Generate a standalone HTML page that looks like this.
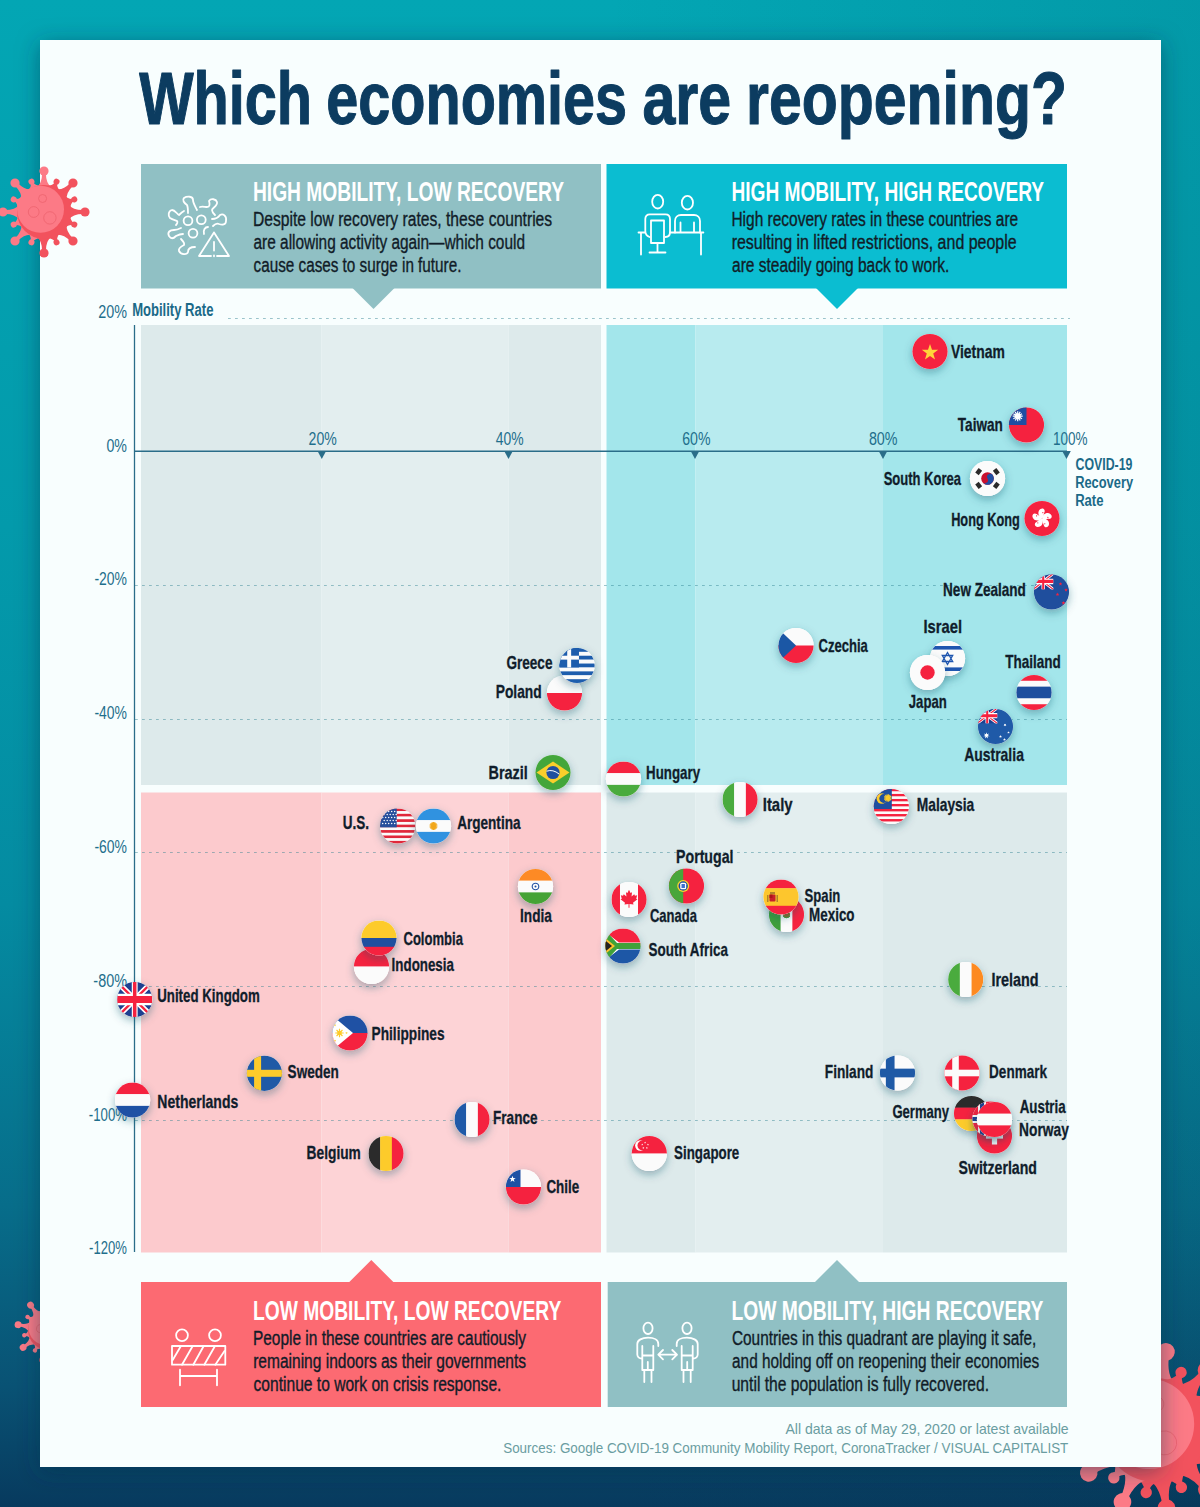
<!DOCTYPE html><html><head><meta charset="utf-8"><title>Which economies are reopening?</title><style>html,body{margin:0;padding:0;background:#0b3b5d;}svg{display:block}text{font-family:"Liberation Sans",sans-serif}</style></head><body><svg width="1200" height="1507" viewBox="0 0 1200 1507" font-family="Liberation Sans">
<defs>
<linearGradient id="bg" x1="0" y1="0" x2="0" y2="1">
<stop offset="0" stop-color="#03a6b4"/><stop offset="0.35" stop-color="#039aab"/><stop offset="0.6" stop-color="#048ba1"/>
<stop offset="0.8" stop-color="#076d8a"/><stop offset="0.92" stop-color="#095274"/><stop offset="1" stop-color="#073a5e"/>
</linearGradient>
<linearGradient id="bgh" x1="0" y1="0" x2="1" y2="0">
<stop offset="0" stop-color="#003040" stop-opacity="0"/><stop offset="0.5" stop-color="#003040" stop-opacity="0"/><stop offset="1" stop-color="#003040" stop-opacity="0.10"/>
</linearGradient>
<filter id="cardsh" x="-6%" y="-6%" width="112%" height="112%"><feDropShadow dx="0" dy="4" stdDeviation="11" flood-color="#003048" flood-opacity="0.5"/></filter>
<filter id="fsh" x="-50%" y="-50%" width="200%" height="200%"><feDropShadow dx="0" dy="3.5" stdDeviation="4.2" flood-color="#1b5266" flood-opacity="0.4"/></filter>
<clipPath id="fc"><circle r="17.6"/></clipPath>
<radialGradient id="vbody" cx="0.4" cy="0.4" r="0.6"><stop offset="0.6" stop-color="#fb7884"/><stop offset="1" stop-color="#f2555f"/></radialGradient>
</defs>
<rect width="1200" height="1507" fill="url(#bg)"/><rect width="1200" height="1507" fill="url(#bgh)"/>
<g transform="translate(48,1330) rotate(10)"><g transform="rotate(0.0)"><path d="M-5.6,-18.4 Q-1.4,-21.0 -1.4,-29.0 L1.4,-29.0 Q1.4,-21.0 5.6,-18.4Z" fill="#fc7a86"/><circle cx="0" cy="-30.4" r="3.4" fill="#fc7a86"/></g><g transform="rotate(22.5)"><path d="M-5.6,-18.4 Q-1.0,-21.0 -1.0,-23.4 L1.0,-23.4 Q1.0,-21.0 5.6,-18.4Z" fill="#f2525d"/><circle cx="0" cy="-24.3" r="2.2" fill="#f2525d"/></g><g transform="rotate(45.0)"><path d="M-5.6,-18.4 Q-1.4,-21.0 -1.4,-29.0 L1.4,-29.0 Q1.4,-21.0 5.6,-18.4Z" fill="#f2525d"/><circle cx="0" cy="-30.4" r="3.4" fill="#f2525d"/></g><g transform="rotate(67.5)"><path d="M-5.6,-18.4 Q-1.0,-21.0 -1.0,-23.4 L1.0,-23.4 Q1.0,-21.0 5.6,-18.4Z" fill="#f2525d"/><circle cx="0" cy="-24.3" r="2.2" fill="#f2525d"/></g><g transform="rotate(90.0)"><path d="M-5.6,-18.4 Q-1.4,-21.0 -1.4,-29.0 L1.4,-29.0 Q1.4,-21.0 5.6,-18.4Z" fill="#f2525d"/><circle cx="0" cy="-30.4" r="3.4" fill="#f2525d"/></g><g transform="rotate(112.5)"><path d="M-5.6,-18.4 Q-1.0,-21.0 -1.0,-23.4 L1.0,-23.4 Q1.0,-21.0 5.6,-18.4Z" fill="#f2525d"/><circle cx="0" cy="-24.3" r="2.2" fill="#f2525d"/></g><g transform="rotate(135.0)"><path d="M-5.6,-18.4 Q-1.4,-21.0 -1.4,-29.0 L1.4,-29.0 Q1.4,-21.0 5.6,-18.4Z" fill="#f2525d"/><circle cx="0" cy="-30.4" r="3.4" fill="#f2525d"/></g><g transform="rotate(157.5)"><path d="M-5.6,-18.4 Q-1.0,-21.0 -1.0,-23.4 L1.0,-23.4 Q1.0,-21.0 5.6,-18.4Z" fill="#f2525d"/><circle cx="0" cy="-24.3" r="2.2" fill="#f2525d"/></g><g transform="rotate(180.0)"><path d="M-5.6,-18.4 Q-1.4,-21.0 -1.4,-29.0 L1.4,-29.0 Q1.4,-21.0 5.6,-18.4Z" fill="#f2525d"/><circle cx="0" cy="-30.4" r="3.4" fill="#f2525d"/></g><g transform="rotate(202.5)"><path d="M-5.6,-18.4 Q-1.0,-21.0 -1.0,-23.4 L1.0,-23.4 Q1.0,-21.0 5.6,-18.4Z" fill="#fc7a86"/><circle cx="0" cy="-24.3" r="2.2" fill="#fc7a86"/></g><g transform="rotate(225.0)"><path d="M-5.6,-18.4 Q-1.4,-21.0 -1.4,-29.0 L1.4,-29.0 Q1.4,-21.0 5.6,-18.4Z" fill="#fc7a86"/><circle cx="0" cy="-30.4" r="3.4" fill="#fc7a86"/></g><g transform="rotate(247.5)"><path d="M-5.6,-18.4 Q-1.0,-21.0 -1.0,-23.4 L1.0,-23.4 Q1.0,-21.0 5.6,-18.4Z" fill="#fc7a86"/><circle cx="0" cy="-24.3" r="2.2" fill="#fc7a86"/></g><g transform="rotate(270.0)"><path d="M-5.6,-18.4 Q-1.4,-21.0 -1.4,-29.0 L1.4,-29.0 Q1.4,-21.0 5.6,-18.4Z" fill="#fc7a86"/><circle cx="0" cy="-30.4" r="3.4" fill="#fc7a86"/></g><g transform="rotate(292.5)"><path d="M-5.6,-18.4 Q-1.0,-21.0 -1.0,-23.4 L1.0,-23.4 Q1.0,-21.0 5.6,-18.4Z" fill="#fc7a86"/><circle cx="0" cy="-24.3" r="2.2" fill="#fc7a86"/></g><g transform="rotate(315.0)"><path d="M-5.6,-18.4 Q-1.4,-21.0 -1.4,-29.0 L1.4,-29.0 Q1.4,-21.0 5.6,-18.4Z" fill="#fc7a86"/><circle cx="0" cy="-30.4" r="3.4" fill="#fc7a86"/></g><g transform="rotate(337.5)"><path d="M-5.6,-18.4 Q-1.0,-21.0 -1.0,-23.4 L1.0,-23.4 Q1.0,-21.0 5.6,-18.4Z" fill="#fc7a86"/><circle cx="0" cy="-24.3" r="2.2" fill="#fc7a86"/></g><circle r="20" fill="#f2525d"/><circle cx="-2.6" cy="-2.0" r="17.4" fill="#fc7a86"/><circle cx="-7.6" cy="0.0" r="4.0" fill="none" stroke="#ee6570" stroke-width="0.9"/><circle cx="4.4" cy="4.4" r="4.6" fill="none" stroke="#ee6570" stroke-width="0.9"/><circle cx="-1.0" cy="-10.0" r="3.0" fill="none" stroke="#ee6570" stroke-width="0.9"/></g>
<g transform="translate(1155,1430) rotate(8)"><g transform="rotate(0.0)"><path d="M-14.6,-47.8 Q-3.6,-54.6 -3.6,-75.4 L3.6,-75.4 Q3.6,-54.6 14.6,-47.8Z" fill="#fc7a86"/><circle cx="0" cy="-78.9" r="8.8" fill="#fc7a86"/></g><g transform="rotate(16.363636363636363)"><path d="M-14.6,-47.8 Q-2.6,-54.6 -2.6,-60.8 L2.6,-60.8 Q2.6,-54.6 14.6,-47.8Z" fill="#f2525d"/><circle cx="0" cy="-63.1" r="5.7" fill="#f2525d"/></g><g transform="rotate(32.72727272727273)"><path d="M-14.6,-47.8 Q-3.6,-54.6 -3.6,-75.4 L3.6,-75.4 Q3.6,-54.6 14.6,-47.8Z" fill="#f2525d"/><circle cx="0" cy="-78.9" r="8.8" fill="#f2525d"/></g><g transform="rotate(49.09090909090909)"><path d="M-14.6,-47.8 Q-2.6,-54.6 -2.6,-60.8 L2.6,-60.8 Q2.6,-54.6 14.6,-47.8Z" fill="#f2525d"/><circle cx="0" cy="-63.1" r="5.7" fill="#f2525d"/></g><g transform="rotate(65.45454545454545)"><path d="M-14.6,-47.8 Q-3.6,-54.6 -3.6,-75.4 L3.6,-75.4 Q3.6,-54.6 14.6,-47.8Z" fill="#f2525d"/><circle cx="0" cy="-78.9" r="8.8" fill="#f2525d"/></g><g transform="rotate(81.81818181818181)"><path d="M-14.6,-47.8 Q-2.6,-54.6 -2.6,-60.8 L2.6,-60.8 Q2.6,-54.6 14.6,-47.8Z" fill="#f2525d"/><circle cx="0" cy="-63.1" r="5.7" fill="#f2525d"/></g><g transform="rotate(98.18181818181819)"><path d="M-14.6,-47.8 Q-3.6,-54.6 -3.6,-75.4 L3.6,-75.4 Q3.6,-54.6 14.6,-47.8Z" fill="#f2525d"/><circle cx="0" cy="-78.9" r="8.8" fill="#f2525d"/></g><g transform="rotate(114.54545454545455)"><path d="M-14.6,-47.8 Q-2.6,-54.6 -2.6,-60.8 L2.6,-60.8 Q2.6,-54.6 14.6,-47.8Z" fill="#f2525d"/><circle cx="0" cy="-63.1" r="5.7" fill="#f2525d"/></g><g transform="rotate(130.9090909090909)"><path d="M-14.6,-47.8 Q-3.6,-54.6 -3.6,-75.4 L3.6,-75.4 Q3.6,-54.6 14.6,-47.8Z" fill="#f2525d"/><circle cx="0" cy="-78.9" r="8.8" fill="#f2525d"/></g><g transform="rotate(147.27272727272728)"><path d="M-14.6,-47.8 Q-2.6,-54.6 -2.6,-60.8 L2.6,-60.8 Q2.6,-54.6 14.6,-47.8Z" fill="#f2525d"/><circle cx="0" cy="-63.1" r="5.7" fill="#f2525d"/></g><g transform="rotate(163.63636363636363)"><path d="M-14.6,-47.8 Q-3.6,-54.6 -3.6,-75.4 L3.6,-75.4 Q3.6,-54.6 14.6,-47.8Z" fill="#f2525d"/><circle cx="0" cy="-78.9" r="8.8" fill="#f2525d"/></g><g transform="rotate(180.0)"><path d="M-14.6,-47.8 Q-2.6,-54.6 -2.6,-60.8 L2.6,-60.8 Q2.6,-54.6 14.6,-47.8Z" fill="#f2525d"/><circle cx="0" cy="-63.1" r="5.7" fill="#f2525d"/></g><g transform="rotate(196.36363636363637)"><path d="M-14.6,-47.8 Q-3.6,-54.6 -3.6,-75.4 L3.6,-75.4 Q3.6,-54.6 14.6,-47.8Z" fill="#fc7a86"/><circle cx="0" cy="-78.9" r="8.8" fill="#fc7a86"/></g><g transform="rotate(212.72727272727272)"><path d="M-14.6,-47.8 Q-2.6,-54.6 -2.6,-60.8 L2.6,-60.8 Q2.6,-54.6 14.6,-47.8Z" fill="#fc7a86"/><circle cx="0" cy="-63.1" r="5.7" fill="#fc7a86"/></g><g transform="rotate(229.0909090909091)"><path d="M-14.6,-47.8 Q-3.6,-54.6 -3.6,-75.4 L3.6,-75.4 Q3.6,-54.6 14.6,-47.8Z" fill="#fc7a86"/><circle cx="0" cy="-78.9" r="8.8" fill="#fc7a86"/></g><g transform="rotate(245.45454545454547)"><path d="M-14.6,-47.8 Q-2.6,-54.6 -2.6,-60.8 L2.6,-60.8 Q2.6,-54.6 14.6,-47.8Z" fill="#fc7a86"/><circle cx="0" cy="-63.1" r="5.7" fill="#fc7a86"/></g><g transform="rotate(261.8181818181818)"><path d="M-14.6,-47.8 Q-3.6,-54.6 -3.6,-75.4 L3.6,-75.4 Q3.6,-54.6 14.6,-47.8Z" fill="#fc7a86"/><circle cx="0" cy="-78.9" r="8.8" fill="#fc7a86"/></g><g transform="rotate(278.1818181818182)"><path d="M-14.6,-47.8 Q-2.6,-54.6 -2.6,-60.8 L2.6,-60.8 Q2.6,-54.6 14.6,-47.8Z" fill="#fc7a86"/><circle cx="0" cy="-63.1" r="5.7" fill="#fc7a86"/></g><g transform="rotate(294.54545454545456)"><path d="M-14.6,-47.8 Q-3.6,-54.6 -3.6,-75.4 L3.6,-75.4 Q3.6,-54.6 14.6,-47.8Z" fill="#fc7a86"/><circle cx="0" cy="-78.9" r="8.8" fill="#fc7a86"/></g><g transform="rotate(310.90909090909093)"><path d="M-14.6,-47.8 Q-2.6,-54.6 -2.6,-60.8 L2.6,-60.8 Q2.6,-54.6 14.6,-47.8Z" fill="#fc7a86"/><circle cx="0" cy="-63.1" r="5.7" fill="#fc7a86"/></g><g transform="rotate(327.27272727272725)"><path d="M-14.6,-47.8 Q-3.6,-54.6 -3.6,-75.4 L3.6,-75.4 Q3.6,-54.6 14.6,-47.8Z" fill="#fc7a86"/><circle cx="0" cy="-78.9" r="8.8" fill="#fc7a86"/></g><g transform="rotate(343.6363636363636)"><path d="M-14.6,-47.8 Q-2.6,-54.6 -2.6,-60.8 L2.6,-60.8 Q2.6,-54.6 14.6,-47.8Z" fill="#fc7a86"/><circle cx="0" cy="-63.1" r="5.7" fill="#fc7a86"/></g><circle r="52" fill="#f2525d"/><circle cx="-6.8" cy="-5.2" r="45.2" fill="#fc7a86"/><circle cx="-19.8" cy="0.0" r="10.4" fill="none" stroke="#ee6570" stroke-width="0.9"/><circle cx="11.4" cy="11.4" r="12.0" fill="none" stroke="#ee6570" stroke-width="0.9"/><circle cx="-2.6" cy="-26.0" r="7.8" fill="none" stroke="#ee6570" stroke-width="0.9"/></g>
<rect x="40" y="40" width="1121" height="1427" fill="#f8fefe" filter="url(#cardsh)"/>
<g transform="translate(44,212) rotate(0)"><g transform="rotate(0.0)"><path d="M-7.6,-24.8 Q-1.9,-28.4 -1.9,-39.1 L1.9,-39.1 Q1.9,-28.4 7.6,-24.8Z" fill="#fc7a86"/><circle cx="0" cy="-41.0" r="4.6" fill="#fc7a86"/></g><g transform="rotate(22.5)"><path d="M-7.6,-24.8 Q-1.4,-28.4 -1.4,-31.6 L1.4,-31.6 Q1.4,-28.4 7.6,-24.8Z" fill="#f2525d"/><circle cx="0" cy="-32.8" r="3.0" fill="#f2525d"/></g><g transform="rotate(45.0)"><path d="M-7.6,-24.8 Q-1.9,-28.4 -1.9,-39.1 L1.9,-39.1 Q1.9,-28.4 7.6,-24.8Z" fill="#f2525d"/><circle cx="0" cy="-41.0" r="4.6" fill="#f2525d"/></g><g transform="rotate(67.5)"><path d="M-7.6,-24.8 Q-1.4,-28.4 -1.4,-31.6 L1.4,-31.6 Q1.4,-28.4 7.6,-24.8Z" fill="#f2525d"/><circle cx="0" cy="-32.8" r="3.0" fill="#f2525d"/></g><g transform="rotate(90.0)"><path d="M-7.6,-24.8 Q-1.9,-28.4 -1.9,-39.1 L1.9,-39.1 Q1.9,-28.4 7.6,-24.8Z" fill="#f2525d"/><circle cx="0" cy="-41.0" r="4.6" fill="#f2525d"/></g><g transform="rotate(112.5)"><path d="M-7.6,-24.8 Q-1.4,-28.4 -1.4,-31.6 L1.4,-31.6 Q1.4,-28.4 7.6,-24.8Z" fill="#f2525d"/><circle cx="0" cy="-32.8" r="3.0" fill="#f2525d"/></g><g transform="rotate(135.0)"><path d="M-7.6,-24.8 Q-1.9,-28.4 -1.9,-39.1 L1.9,-39.1 Q1.9,-28.4 7.6,-24.8Z" fill="#f2525d"/><circle cx="0" cy="-41.0" r="4.6" fill="#f2525d"/></g><g transform="rotate(157.5)"><path d="M-7.6,-24.8 Q-1.4,-28.4 -1.4,-31.6 L1.4,-31.6 Q1.4,-28.4 7.6,-24.8Z" fill="#f2525d"/><circle cx="0" cy="-32.8" r="3.0" fill="#f2525d"/></g><g transform="rotate(180.0)"><path d="M-7.6,-24.8 Q-1.9,-28.4 -1.9,-39.1 L1.9,-39.1 Q1.9,-28.4 7.6,-24.8Z" fill="#f2525d"/><circle cx="0" cy="-41.0" r="4.6" fill="#f2525d"/></g><g transform="rotate(202.5)"><path d="M-7.6,-24.8 Q-1.4,-28.4 -1.4,-31.6 L1.4,-31.6 Q1.4,-28.4 7.6,-24.8Z" fill="#fc7a86"/><circle cx="0" cy="-32.8" r="3.0" fill="#fc7a86"/></g><g transform="rotate(225.0)"><path d="M-7.6,-24.8 Q-1.9,-28.4 -1.9,-39.1 L1.9,-39.1 Q1.9,-28.4 7.6,-24.8Z" fill="#fc7a86"/><circle cx="0" cy="-41.0" r="4.6" fill="#fc7a86"/></g><g transform="rotate(247.5)"><path d="M-7.6,-24.8 Q-1.4,-28.4 -1.4,-31.6 L1.4,-31.6 Q1.4,-28.4 7.6,-24.8Z" fill="#fc7a86"/><circle cx="0" cy="-32.8" r="3.0" fill="#fc7a86"/></g><g transform="rotate(270.0)"><path d="M-7.6,-24.8 Q-1.9,-28.4 -1.9,-39.1 L1.9,-39.1 Q1.9,-28.4 7.6,-24.8Z" fill="#fc7a86"/><circle cx="0" cy="-41.0" r="4.6" fill="#fc7a86"/></g><g transform="rotate(292.5)"><path d="M-7.6,-24.8 Q-1.4,-28.4 -1.4,-31.6 L1.4,-31.6 Q1.4,-28.4 7.6,-24.8Z" fill="#fc7a86"/><circle cx="0" cy="-32.8" r="3.0" fill="#fc7a86"/></g><g transform="rotate(315.0)"><path d="M-7.6,-24.8 Q-1.9,-28.4 -1.9,-39.1 L1.9,-39.1 Q1.9,-28.4 7.6,-24.8Z" fill="#fc7a86"/><circle cx="0" cy="-41.0" r="4.6" fill="#fc7a86"/></g><g transform="rotate(337.5)"><path d="M-7.6,-24.8 Q-1.4,-28.4 -1.4,-31.6 L1.4,-31.6 Q1.4,-28.4 7.6,-24.8Z" fill="#fc7a86"/><circle cx="0" cy="-32.8" r="3.0" fill="#fc7a86"/></g><circle r="27" fill="#f2525d"/><circle cx="-3.5" cy="-2.7" r="23.5" fill="#fc7a86"/><circle cx="-10.3" cy="0.0" r="5.4" fill="none" stroke="#ee6570" stroke-width="0.9"/><circle cx="5.9" cy="5.9" r="6.2" fill="none" stroke="#ee6570" stroke-width="0.9"/><circle cx="-1.4" cy="-13.5" r="4.0" fill="none" stroke="#ee6570" stroke-width="0.9"/></g>
<text x="139.14" y="124.00" font-size="74" font-weight="bold" fill="#0c3c60" textLength="172.93" lengthAdjust="spacingAndGlyphs" stroke="#0c3c60" stroke-width="1.1" stroke-linejoin="round">Which</text>
<text x="326.25" y="124.00" font-size="74" font-weight="bold" fill="#0c3c60" textLength="300.81" lengthAdjust="spacingAndGlyphs" stroke="#0c3c60" stroke-width="1.1" stroke-linejoin="round">economies</text>
<text x="642.47" y="124.00" font-size="74" font-weight="bold" fill="#0c3c60" textLength="88.75" lengthAdjust="spacingAndGlyphs" stroke="#0c3c60" stroke-width="1.1" stroke-linejoin="round">are</text>
<text x="746.12" y="124.00" font-size="74" font-weight="bold" fill="#0c3c60" textLength="320.78" lengthAdjust="spacingAndGlyphs" stroke="#0c3c60" stroke-width="1.1" stroke-linejoin="round">reopening?</text>
<rect x="141" y="164" width="460" height="124.5" fill="#90c0c4"/>
<path d="M352.5,288 L394.5,288 L373.5,309 Z" fill="#90c0c4"/>
<rect x="606.5" y="164" width="460.5" height="124.5" fill="#0bbdd1"/>
<path d="M816,288 L858,288 L837,309 Z" fill="#0bbdd1"/>
<rect x="141" y="1282" width="460" height="125" fill="#fc6a72"/>
<path d="M348.8,1282.5 L393.8,1282.5 L371.3,1260 Z" fill="#fc6a72"/>
<rect x="607.7" y="1282" width="459.3" height="125" fill="#90c0c4"/>
<path d="M814.5,1282.5 L859.5,1282.5 L837,1260 Z" fill="#90c0c4"/>
<text x="252.93" y="200.60" font-size="27.2" font-weight="bold" fill="#ffffff" textLength="311.18" lengthAdjust="spacingAndGlyphs">HIGH MOBILITY, LOW RECOVERY</text>
<text x="252.92" y="225.90" font-size="19.6" font-weight="normal" fill="#111c28" textLength="299.25" lengthAdjust="spacingAndGlyphs" stroke="#111c28" stroke-width="0.35">Despite low recovery rates, these countries</text>
<text x="253.55" y="248.80" font-size="19.6" font-weight="normal" fill="#111c28" textLength="271.45" lengthAdjust="spacingAndGlyphs" stroke="#111c28" stroke-width="0.35">are allowing activity again—which could</text>
<text x="253.55" y="271.70" font-size="19.6" font-weight="normal" fill="#111c28" textLength="207.84" lengthAdjust="spacingAndGlyphs" stroke="#111c28" stroke-width="0.35">cause cases to surge in future.</text>
<text x="731.43" y="200.60" font-size="27.2" font-weight="bold" fill="#ffffff" textLength="312.67" lengthAdjust="spacingAndGlyphs">HIGH MOBILITY, HIGH RECOVERY</text>
<text x="731.43" y="225.90" font-size="19.6" font-weight="normal" fill="#111c28" textLength="286.76" lengthAdjust="spacingAndGlyphs" stroke="#111c28" stroke-width="0.35">High recovery rates in these countries are</text>
<text x="731.64" y="248.80" font-size="19.6" font-weight="normal" fill="#111c28" textLength="285.07" lengthAdjust="spacingAndGlyphs" stroke="#111c28" stroke-width="0.35">resulting in lifted restrictions, and people</text>
<text x="732.04" y="271.70" font-size="19.6" font-weight="normal" fill="#111c28" textLength="217.38" lengthAdjust="spacingAndGlyphs" stroke="#111c28" stroke-width="0.35">are steadily going back to work.</text>
<text x="252.92" y="1319.70" font-size="27.2" font-weight="bold" fill="#ffffff" textLength="308.38" lengthAdjust="spacingAndGlyphs">LOW MOBILITY, LOW RECOVERY</text>
<text x="252.93" y="1345.00" font-size="19.6" font-weight="normal" fill="#111c28" textLength="273.10" lengthAdjust="spacingAndGlyphs" stroke="#111c28" stroke-width="0.35">People in these countries are cautiously</text>
<text x="253.17" y="1367.90" font-size="19.6" font-weight="normal" fill="#111c28" textLength="272.89" lengthAdjust="spacingAndGlyphs" stroke="#111c28" stroke-width="0.35">remaining indoors as their governments</text>
<text x="253.54" y="1390.80" font-size="19.6" font-weight="normal" fill="#111c28" textLength="247.89" lengthAdjust="spacingAndGlyphs" stroke="#111c28" stroke-width="0.35">continue to work on crisis response.</text>
<text x="731.42" y="1319.70" font-size="27.2" font-weight="bold" fill="#ffffff" textLength="311.89" lengthAdjust="spacingAndGlyphs">LOW MOBILITY, HIGH RECOVERY</text>
<text x="731.92" y="1345.00" font-size="19.6" font-weight="normal" fill="#111c28" textLength="304.46" lengthAdjust="spacingAndGlyphs" stroke="#111c28" stroke-width="0.35">Countries in this quadrant are playing it safe,</text>
<text x="732.05" y="1367.90" font-size="19.6" font-weight="normal" fill="#111c28" textLength="307.21" lengthAdjust="spacingAndGlyphs" stroke="#111c28" stroke-width="0.35">and holding off on reopening their economies</text>
<text x="731.68" y="1390.80" font-size="19.6" font-weight="normal" fill="#111c28" textLength="257.44" lengthAdjust="spacingAndGlyphs" stroke="#111c28" stroke-width="0.35">until the population is fully recovered.</text>
<g transform="translate(160,190)" fill="none" stroke="#fff" stroke-width="1.8" stroke-linecap="round" stroke-linejoin="round"><path d="M37,20 C35,16 33,13 33,10 C33,6 27,6 24,8 C22,10 24,13 27,15 C28,17 28,20 28,23"/><path d="M40,17 C42,16 45,17 47,17 C50,17 50,14 49,11 C51,8 56,9 57,12 C58,16 52,18 52,20 C52,22 54,24 55,25"/><path d="M52,29 C55,29 58,28 60,25 C63,23 67,26 66,31 C66,35 62,35 59,34 C57,33 55,34 53,36"/><path d="M24,21 C22,22 20,24 19,25 C17,24 15,20 12,20 C8,21 8,26 10,28 C13,30 15,30 17,31 C18,32 17,34 16,35"/><path d="M21,38 C19,39 17,40 14,40 C10,40 7,42 9,46 C11,49 13,49 16,46 C18,45 20,44 23,44"/><path d="M21,49 C23,51 25,53 24,55 C22,56 18,58 19,61 C21,65 27,65 28,62 C28,59 30,57 35,57"/><circle cx="28" cy="30.7" r="4.4"/><circle cx="41.3" cy="29.7" r="4.4"/><circle cx="33" cy="43.3" r="4.4"/><path d="M48,37 C45,37 43,40 44,44"/></g>
<g transform="translate(160,190)" fill="none" stroke="#fff" stroke-width="1.8" stroke-linecap="round" stroke-linejoin="round"><path d="M54,42.5 L39,66 L51,66 M57,66 L69,66 L54,42.5"/><path d="M54,52 L54,60.5"/><path d="M54,65.5 L54,66.3"/></g>
<g transform="translate(630,185)" fill="none" stroke="#fff" stroke-width="1.8" stroke-linecap="round" stroke-linejoin="round" stroke-width="2"><ellipse cx="27.7" cy="16.7" rx="5.5" ry="6.8"/><ellipse cx="57.4" cy="17.7" rx="5.6" ry="6.8"/><path d="M19.5,52 C17,51 15.3,49 15.3,46 L15.3,34 C15.3,31 17,29.3 20,29.3 L35.5,29.3 C38.5,29.3 40,31 40,34 L40,47 C40,50 38.5,52 35.5,52"/><rect x="21" y="35.5" width="13" height="22.5"/><path d="M27.5,58 L27.5,67.5 M19.5,67.5 L35.5,67.5"/><path d="M45,47.5 L45,36 C45,32.5 47.5,30 51,30 L64,30 C67.5,30 70,32.5 70,36 L70,47.5"/><path d="M50.5,37.5 L50.5,47 M64,37.5 L64,47"/><path d="M8.5,47.5 L15,47.5 M40,47.5 L73.4,47.5 M11,48.5 L11,69.5 M71,48.5 L71,69.5"/></g>
<g transform="translate(160,1320)" fill="none" stroke="#fff" stroke-width="1.8" stroke-linecap="round" stroke-linejoin="round" stroke-width="2"><circle cx="22" cy="15.3" r="5.9"/><circle cx="55" cy="15.3" r="5.9"/><rect x="12" y="26" width="53.3" height="18.7"/><path d="M12.7,40 L20.9,26 M22,44.7 L32.7,26 M33.3,44.7 L43.7,26 M44.3,44.7 L55,26 M55.3,44.7 L64.5,31"/><path d="M20,49.7 L20,65.3 M57,49.7 L57,65.3 M20,56 L57,56"/></g>
<g transform="translate(630,1315)" fill="none" stroke="#fff" stroke-width="1.8" stroke-linecap="round" stroke-linejoin="round" stroke-width="2"><ellipse cx="18" cy="13.3" rx="4.6" ry="5.7"/><path d="M28.3,31 L28.3,29 C28.3,25 24,22.7 18,22.7 C12,22.7 7.300000000000001,25 7.300000000000001,29 L7.300000000000001,39.5 C7.300000000000001,41.5 9,43.5 12,43.5"/><path d="M12.3,31 L12.3,55 L23.3,55 L23.3,31 M12.3,40.5 L23.3,40.5 M17.8,47 L17.8,55 M14.3,55 L14.3,67 M21.5,55 L21.5,67"/><ellipse cx="57" cy="13.3" rx="4.6" ry="5.7"/><path d="M46.7,31 L46.7,29 C46.7,25 51,22.7 57,22.7 C63,22.7 67.7,25 67.7,29 L67.7,39.5 C67.7,41.5 66,43.5 63,43.5"/><path d="M62.7,31 L62.7,55 L51.7,55 L51.7,31 M62.7,40.5 L51.7,40.5 M57.2,47 L57.2,55 M60.7,55 L60.7,67 M53.5,55 L53.5,67"/><path d="M28.5,39.7 L47,39.7 M33,35 L28.3,39.7 L33,44.4 M42.3,35 L47,39.7 L42.3,44.4"/></g>
<rect x="141" y="325" width="180.5" height="460" fill="#ddeaeb"/>
<rect x="321.5" y="325" width="187.0" height="460" fill="#e3eeef"/>
<rect x="508.5" y="325" width="92.5" height="460" fill="#ddeaeb"/>
<rect x="606.5" y="325" width="89.0" height="460" fill="#a3e6eb"/>
<rect x="695.5" y="325" width="187.5" height="460" fill="#b8ebef"/>
<rect x="883" y="325" width="184" height="460" fill="#a3e6eb"/>
<rect x="141" y="792.5" width="180.5" height="460.0" fill="#fccacd"/>
<rect x="321.5" y="792.5" width="187.0" height="460.0" fill="#fdd3d6"/>
<rect x="508.5" y="792.5" width="92.5" height="460.0" fill="#fccacd"/>
<rect x="606.5" y="792.5" width="89.0" height="460.0" fill="#ddeaeb"/>
<rect x="695.5" y="792.5" width="187.5" height="460.0" fill="#e3eeef"/>
<rect x="883" y="792.5" width="184" height="460.0" fill="#ddeaeb"/>
<line x1="228" y1="318.5" x2="1070" y2="318.5" stroke="#2b7f8f" stroke-opacity="0.45" stroke-width="1" stroke-dasharray="2.8 4.2"/>
<line x1="135" y1="585.5" x2="1067" y2="585.5" stroke="#2b7f8f" stroke-opacity="0.45" stroke-width="1" stroke-dasharray="2.8 4.2"/>
<line x1="135" y1="719.5" x2="1067" y2="719.5" stroke="#2b7f8f" stroke-opacity="0.45" stroke-width="1" stroke-dasharray="2.8 4.2"/>
<line x1="135" y1="852.5" x2="1067" y2="852.5" stroke="#2b7f8f" stroke-opacity="0.45" stroke-width="1" stroke-dasharray="2.8 4.2"/>
<line x1="135" y1="986.5" x2="1067" y2="986.5" stroke="#2b7f8f" stroke-opacity="0.45" stroke-width="1" stroke-dasharray="2.8 4.2"/>
<line x1="135" y1="1120.5" x2="1067" y2="1120.5" stroke="#2b7f8f" stroke-opacity="0.45" stroke-width="1" stroke-dasharray="2.8 4.2"/>
<line x1="134.5" y1="325" x2="134.5" y2="1252" stroke="#2a6d89" stroke-width="1.3"/>
<line x1="134" y1="451.3" x2="1067" y2="451.3" stroke="#2a6d89" stroke-width="1.6"/>
<path d="M317.5,451 L326.1,451 L321.8,459 Z" fill="#2a6d89"/>
<path d="M504.2,451 L512.8,451 L508.5,459 Z" fill="#2a6d89"/>
<path d="M690.7,451 L699.3,451 L695.0,459 Z" fill="#2a6d89"/>
<path d="M878.7,451 L887.3,451 L883.0,459 Z" fill="#2a6d89"/>
<path d="M1062.2,451 L1070.8,451 L1066.5,459 Z" fill="#2a6d89"/>
<text x="308.59" y="444.50" font-size="18.3" font-weight="normal" fill="#1f6f8c" textLength="28.21" lengthAdjust="spacingAndGlyphs">20%</text>
<text x="495.68" y="444.50" font-size="18.3" font-weight="normal" fill="#1f6f8c" textLength="27.81" lengthAdjust="spacingAndGlyphs">40%</text>
<text x="682.28" y="444.50" font-size="18.3" font-weight="normal" fill="#1f6f8c" textLength="28.22" lengthAdjust="spacingAndGlyphs">60%</text>
<text x="868.88" y="444.50" font-size="18.3" font-weight="normal" fill="#1f6f8c" textLength="28.63" lengthAdjust="spacingAndGlyphs">80%</text>
<text x="1052.97" y="444.50" font-size="18.3" font-weight="normal" fill="#1f6f8c" textLength="34.51" lengthAdjust="spacingAndGlyphs">100%</text>
<text x="98.28" y="317.50" font-size="18.3" font-weight="normal" fill="#1f6f8c" textLength="28.73" lengthAdjust="spacingAndGlyphs">20%</text>
<text x="106.44" y="451.50" font-size="18.3" font-weight="normal" fill="#1f6f8c" textLength="20.56" lengthAdjust="spacingAndGlyphs">0%</text>
<text x="94.38" y="585.30" font-size="18.3" font-weight="normal" fill="#1f6f8c" textLength="32.62" lengthAdjust="spacingAndGlyphs">-20%</text>
<text x="94.38" y="719.10" font-size="18.3" font-weight="normal" fill="#1f6f8c" textLength="32.62" lengthAdjust="spacingAndGlyphs">-40%</text>
<text x="94.38" y="852.90" font-size="18.3" font-weight="normal" fill="#1f6f8c" textLength="32.62" lengthAdjust="spacingAndGlyphs">-60%</text>
<text x="93.36" y="986.70" font-size="18.3" font-weight="normal" fill="#1f6f8c" textLength="33.65" lengthAdjust="spacingAndGlyphs">-80%</text>
<text x="88.81" y="1120.50" font-size="18.3" font-weight="normal" fill="#1f6f8c" textLength="38.16" lengthAdjust="spacingAndGlyphs">-100%</text>
<text x="89.12" y="1254.30" font-size="18.3" font-weight="normal" fill="#1f6f8c" textLength="37.85" lengthAdjust="spacingAndGlyphs">-120%</text>
<text x="132.13" y="316.00" font-size="17.5" font-weight="bold" fill="#1b6a88" textLength="81.32" lengthAdjust="spacingAndGlyphs">Mobility Rate</text>
<text x="1075.49" y="470.00" font-size="16" font-weight="bold" fill="#1b6a88" textLength="56.96" lengthAdjust="spacingAndGlyphs">COVID-19</text>
<text x="1075.14" y="488.00" font-size="16" font-weight="bold" fill="#1b6a88" textLength="57.93" lengthAdjust="spacingAndGlyphs">Recovery</text>
<text x="1075.13" y="506.00" font-size="16" font-weight="bold" fill="#1b6a88" textLength="28.32" lengthAdjust="spacingAndGlyphs">Rate</text>
<g transform="translate(930,351.5)"><circle r="17.6" fill="#fff" filter="url(#fsh)"/><g clip-path="url(#fc)"><rect x="-18.60" y="-18.60" width="37.20" height="37.20" fill="#f5223f"/><polygon points="0.00,-7.60 2.00,-1.75 8.18,-1.66 3.23,2.05 5.05,7.96 0.00,4.40 -5.05,7.96 -3.23,2.05 -8.18,-1.66 -2.00,-1.75" fill="#ffd43a"/></g></g>
<g transform="translate(1026.5,425)"><circle r="17.6" fill="#fff" filter="url(#fsh)"/><g clip-path="url(#fc)"><rect x="-18.60" y="-18.60" width="37.20" height="37.20" fill="#f5223f"/><rect x="-18.60" y="-18.60" width="18.60" height="18.60" fill="#1f4ea2"/><circle cx="-8.8" cy="-8.8" r="3.0" fill="#fff"/><line x1="-8.80" y1="-8.80" x2="-3.80" y2="-8.80" stroke="#fff" stroke-width="1.2"/><line x1="-8.80" y1="-8.80" x2="-4.47" y2="-6.30" stroke="#fff" stroke-width="1.2"/><line x1="-8.80" y1="-8.80" x2="-6.30" y2="-4.47" stroke="#fff" stroke-width="1.2"/><line x1="-8.80" y1="-8.80" x2="-8.80" y2="-3.80" stroke="#fff" stroke-width="1.2"/><line x1="-8.80" y1="-8.80" x2="-11.30" y2="-4.47" stroke="#fff" stroke-width="1.2"/><line x1="-8.80" y1="-8.80" x2="-13.13" y2="-6.30" stroke="#fff" stroke-width="1.2"/><line x1="-8.80" y1="-8.80" x2="-13.80" y2="-8.80" stroke="#fff" stroke-width="1.2"/><line x1="-8.80" y1="-8.80" x2="-13.13" y2="-11.30" stroke="#fff" stroke-width="1.2"/><line x1="-8.80" y1="-8.80" x2="-11.30" y2="-13.13" stroke="#fff" stroke-width="1.2"/><line x1="-8.80" y1="-8.80" x2="-8.80" y2="-13.80" stroke="#fff" stroke-width="1.2"/><line x1="-8.80" y1="-8.80" x2="-6.30" y2="-13.13" stroke="#fff" stroke-width="1.2"/><line x1="-8.80" y1="-8.80" x2="-4.47" y2="-11.30" stroke="#fff" stroke-width="1.2"/></g></g>
<g transform="translate(987.5,478.5)"><circle r="17.6" fill="#fff" filter="url(#fsh)"/><g clip-path="url(#fc)"><rect x="-18.60" y="-18.60" width="37.20" height="37.20" fill="#fbfbfb"/><circle r="6.3" fill="#c8102e" cx="0" cy="0"/><path d="M-6.3,0 A6.3,6.3 0 0 0 6.3,0 A3.15,3.15 0 0 0 0,0 A3.15,3.15 0 0 1 -6.3,0Z" fill="#1f4ea2" transform="rotate(-30)"/><g transform="rotate(-52) translate(0,-11.2)"><rect x="-2.8" y="-2.2" width="5.6" height="4.4" fill="#2a2a2a"/></g><g transform="rotate(52) translate(0,-11.2)"><rect x="-2.8" y="-2.2" width="5.6" height="4.4" fill="#2a2a2a"/></g><g transform="rotate(128) translate(0,-11.2)"><rect x="-2.8" y="-2.2" width="5.6" height="4.4" fill="#2a2a2a"/></g><g transform="rotate(-128) translate(0,-11.2)"><rect x="-2.8" y="-2.2" width="5.6" height="4.4" fill="#2a2a2a"/></g></g></g>
<g transform="translate(1042,518.5)"><circle r="17.6" fill="#fff" filter="url(#fsh)"/><g clip-path="url(#fc)"><rect x="-18.60" y="-18.60" width="37.20" height="37.20" fill="#f5223f"/><path d="M0,0 C-4,-2 -5,-7 -1.5,-9.5 C1,-11 3.5,-9 2.5,-6.5 C1.5,-4.5 2,-2 0,0Z" fill="#fff" transform="rotate(0)"/><circle cx="0" cy="-6" r="0.6" fill="#f5223f" transform="rotate(8)"/><path d="M0,0 C-4,-2 -5,-7 -1.5,-9.5 C1,-11 3.5,-9 2.5,-6.5 C1.5,-4.5 2,-2 0,0Z" fill="#fff" transform="rotate(72)"/><circle cx="0" cy="-6" r="0.6" fill="#f5223f" transform="rotate(80)"/><path d="M0,0 C-4,-2 -5,-7 -1.5,-9.5 C1,-11 3.5,-9 2.5,-6.5 C1.5,-4.5 2,-2 0,0Z" fill="#fff" transform="rotate(144)"/><circle cx="0" cy="-6" r="0.6" fill="#f5223f" transform="rotate(152)"/><path d="M0,0 C-4,-2 -5,-7 -1.5,-9.5 C1,-11 3.5,-9 2.5,-6.5 C1.5,-4.5 2,-2 0,0Z" fill="#fff" transform="rotate(216)"/><circle cx="0" cy="-6" r="0.6" fill="#f5223f" transform="rotate(224)"/><path d="M0,0 C-4,-2 -5,-7 -1.5,-9.5 C1,-11 3.5,-9 2.5,-6.5 C1.5,-4.5 2,-2 0,0Z" fill="#fff" transform="rotate(288)"/><circle cx="0" cy="-6" r="0.6" fill="#f5223f" transform="rotate(296)"/></g></g>
<g transform="translate(1051.5,592)"><circle r="17.6" fill="#fff" filter="url(#fsh)"/><g clip-path="url(#fc)"><rect x="-18.60" y="-18.60" width="37.20" height="37.20" fill="#1f4e9d"/><svg x="-18.6" y="-18.6" width="20.6" height="16.1" viewBox="0 0 60 30" preserveAspectRatio="none"><rect width="60" height="30" fill="#1d3f8f"/><path d="M0,0 L60,30 M60,0 L0,30" stroke="#fff" stroke-width="6"/><path d="M0,0 L60,30 M60,0 L0,30" stroke="#f5223f" stroke-width="2.5"/><path d="M30,0 V30 M0,15 H60" stroke="#fff" stroke-width="10"/><path d="M30,0 V30 M0,15 H60" stroke="#f5223f" stroke-width="6"/></svg><polygon points="9.00,-9.90 9.47,-8.65 10.81,-8.59 9.76,-7.75 10.12,-6.46 9.00,-7.20 7.88,-6.46 8.24,-7.75 7.19,-8.59 8.53,-8.65" fill="#f5223f"/><polygon points="14.50,-3.90 14.97,-2.65 16.31,-2.59 15.26,-1.75 15.62,-0.46 14.50,-1.20 13.38,-0.46 13.74,-1.75 12.69,-2.59 14.03,-2.65" fill="#f5223f"/><polygon points="6.00,0.60 6.47,1.85 7.81,1.91 6.76,2.75 7.12,4.04 6.00,3.30 4.88,4.04 5.24,2.75 4.19,1.91 5.53,1.85" fill="#f5223f"/><polygon points="12.00,8.90 12.53,10.27 14.00,10.35 12.86,11.28 13.23,12.70 12.00,11.90 10.77,12.70 11.14,11.28 10.00,10.35 11.47,10.27" fill="#f5223f"/></g></g>
<g transform="translate(796,645.5)"><circle r="17.6" fill="#fff" filter="url(#fsh)"/><g clip-path="url(#fc)"><rect x="-18.60" y="-17.60" width="37.20" height="17.90" fill="#fbfbfb"/><rect x="-18.60" y="0.00" width="37.20" height="17.90" fill="#f5223f"/><path d="M-19,-18 L0,0 L-19,18Z" fill="#1b57a5"/></g></g>
<g transform="translate(947.5,658.5)"><circle r="17.6" fill="#fff" filter="url(#fsh)"/><g clip-path="url(#fc)"><rect x="-18.60" y="-18.60" width="37.20" height="37.20" fill="#fbfbfb"/><rect x="-18.60" y="-12.50" width="37.20" height="3.60" fill="#1f56b0"/><rect x="-18.60" y="8.90" width="37.20" height="3.60" fill="#1f56b0"/><path d="M0,-6 L5.2,3 L-5.2,3Z M0,6 L5.2,-3 L-5.2,-3Z" fill="none" stroke="#1f56b0" stroke-width="1.3"/></g></g>
<g transform="translate(927.5,672.5)"><circle r="17.6" fill="#fff" filter="url(#fsh)"/><g clip-path="url(#fc)"><rect x="-18.60" y="-18.60" width="37.20" height="37.20" fill="#fbfbfb"/><circle r="7.2" fill="#f5223f"/></g></g>
<g transform="translate(1034,692.5)"><circle r="17.6" fill="#fff" filter="url(#fsh)"/><g clip-path="url(#fc)"><rect x="-18.60" y="-17.60" width="37.20" height="6.17" fill="#f5223f"/><rect x="-18.60" y="-11.73" width="37.20" height="6.17" fill="#fbfbfb"/><rect x="-18.60" y="-5.87" width="37.20" height="12.03" fill="#1e4e9e"/><rect x="-18.60" y="5.87" width="37.20" height="6.17" fill="#fbfbfb"/><rect x="-18.60" y="11.73" width="37.20" height="6.17" fill="#f5223f"/></g></g>
<g transform="translate(995.5,726.5)"><circle r="17.6" fill="#fff" filter="url(#fsh)"/><g clip-path="url(#fc)"><rect x="-18.60" y="-18.60" width="37.20" height="37.20" fill="#1f5aa8"/><svg x="-18.6" y="-18.6" width="20.6" height="15.600000000000001" viewBox="0 0 60 30" preserveAspectRatio="none"><rect width="60" height="30" fill="#1d3f8f"/><path d="M0,0 L60,30 M60,0 L0,30" stroke="#fff" stroke-width="6"/><path d="M0,0 L60,30 M60,0 L0,30" stroke="#f5223f" stroke-width="2.5"/><path d="M30,0 V30 M0,15 H60" stroke="#fff" stroke-width="10"/><path d="M30,0 V30 M0,15 H60" stroke="#f5223f" stroke-width="6"/></svg><polygon points="-9.00,5.80 -8.39,7.74 -6.50,7.00 -7.64,8.69 -5.88,9.71 -7.91,9.87 -7.61,11.88 -9.00,10.40 -10.39,11.88 -10.09,9.87 -12.12,9.71 -10.36,8.69 -11.50,7.00 -9.61,7.74" fill="#fff"/><polygon points="9.50,-3.00 9.80,-2.13 10.67,-2.44 10.18,-1.66 10.96,-1.17 10.05,-1.06 10.15,-0.15 9.50,-0.80 8.85,-0.15 8.95,-1.06 8.04,-1.17 8.82,-1.66 8.33,-2.44 9.20,-2.13" fill="#fff"/><polygon points="5.00,8.50 5.41,9.43 6.43,9.54 5.67,10.22 5.88,11.21 5.00,10.70 4.12,11.21 4.33,10.22 3.57,9.54 4.59,9.43" fill="#fbfbfb"/><polygon points="13.00,4.70 13.35,5.51 14.24,5.60 13.57,6.19 13.76,7.05 13.00,6.60 12.24,7.05 12.43,6.19 11.76,5.60 12.65,5.51" fill="#fbfbfb"/><polygon points="9.00,11.50 9.41,12.43 10.43,12.54 9.67,13.22 9.88,14.21 9.00,13.70 8.12,14.21 8.33,13.22 7.57,12.54 8.59,12.43" fill="#fbfbfb"/></g></g>
<g transform="translate(564.5,693)"><circle r="17.6" fill="#fff" filter="url(#fsh)"/><g clip-path="url(#fc)"><rect x="-18.60" y="-17.60" width="37.20" height="17.90" fill="#fbfbfb"/><rect x="-18.60" y="0.00" width="37.20" height="17.90" fill="#f5223f"/></g></g>
<g transform="translate(577,665.5)"><circle r="17.6" fill="#fff" filter="url(#fsh)"/><g clip-path="url(#fc)"><rect x="-18.60" y="-17.60" width="37.20" height="4.11" fill="#1d5dad"/><rect x="-18.60" y="-13.69" width="37.20" height="4.11" fill="#fbfbfb"/><rect x="-18.60" y="-9.78" width="37.20" height="4.11" fill="#1d5dad"/><rect x="-18.60" y="-5.87" width="37.20" height="4.11" fill="#fbfbfb"/><rect x="-18.60" y="-1.96" width="37.20" height="4.11" fill="#1d5dad"/><rect x="-18.60" y="1.96" width="37.20" height="4.11" fill="#fbfbfb"/><rect x="-18.60" y="5.87" width="37.20" height="4.11" fill="#1d5dad"/><rect x="-18.60" y="9.78" width="37.20" height="4.11" fill="#fbfbfb"/><rect x="-18.60" y="13.69" width="37.20" height="4.11" fill="#1d5dad"/><rect x="-18.60" y="-18.60" width="20.56" height="20.56" fill="#1d5dad"/><rect x="-18.60" y="-9.78" width="20.56" height="3.91" fill="#fbfbfb"/><rect x="-9.78" y="-18.60" width="3.91" height="20.56" fill="#fbfbfb"/></g></g>
<g transform="translate(553,772.5)"><circle r="17.6" fill="#fff" filter="url(#fsh)"/><g clip-path="url(#fc)"><rect x="-18.60" y="-18.60" width="37.20" height="37.20" fill="#43a63b"/><path d="M-16.5,0 L0,-11 L16.5,0 L0,11Z" fill="#f9cf2b"/><circle r="6.6" fill="#1f4f9f"/><path d="M-6.4,-1.3 Q0,-3.5 6.2,1.6" stroke="#fff" stroke-width="1" fill="none"/></g></g>
<g transform="translate(623.5,779)"><circle r="17.6" fill="#fff" filter="url(#fsh)"/><g clip-path="url(#fc)"><rect x="-18.60" y="-17.60" width="37.20" height="12.03" fill="#f5223f"/><rect x="-18.60" y="-5.87" width="37.20" height="12.03" fill="#fbfbfb"/><rect x="-18.60" y="5.87" width="37.20" height="12.03" fill="#4aab3e"/></g></g>
<g transform="translate(740,799.5)"><circle r="17.6" fill="#fff" filter="url(#fsh)"/><g clip-path="url(#fc)"><rect x="-17.60" y="-18.60" width="12.03" height="37.20" fill="#4aab3e"/><rect x="-5.87" y="-18.60" width="12.03" height="37.20" fill="#fbfbfb"/><rect x="5.87" y="-18.60" width="12.03" height="37.20" fill="#f5223f"/></g></g>
<g transform="translate(891.3,806.5)"><circle r="17.6" fill="#fff" filter="url(#fsh)"/><g clip-path="url(#fc)"><rect x="-18.60" y="-17.60" width="37.20" height="2.71" fill="#f5223f"/><rect x="-18.60" y="-15.09" width="37.20" height="2.71" fill="#fbfbfb"/><rect x="-18.60" y="-12.57" width="37.20" height="2.71" fill="#f5223f"/><rect x="-18.60" y="-10.06" width="37.20" height="2.71" fill="#fbfbfb"/><rect x="-18.60" y="-7.54" width="37.20" height="2.71" fill="#f5223f"/><rect x="-18.60" y="-5.03" width="37.20" height="2.71" fill="#fbfbfb"/><rect x="-18.60" y="-2.51" width="37.20" height="2.71" fill="#f5223f"/><rect x="-18.60" y="0.00" width="37.20" height="2.71" fill="#fbfbfb"/><rect x="-18.60" y="2.51" width="37.20" height="2.71" fill="#f5223f"/><rect x="-18.60" y="5.03" width="37.20" height="2.71" fill="#fbfbfb"/><rect x="-18.60" y="7.54" width="37.20" height="2.71" fill="#f5223f"/><rect x="-18.60" y="10.06" width="37.20" height="2.71" fill="#fbfbfb"/><rect x="-18.60" y="12.57" width="37.20" height="2.71" fill="#f5223f"/><rect x="-18.60" y="15.09" width="37.20" height="2.71" fill="#fbfbfb"/><rect x="-18.60" y="-18.60" width="19.10" height="21.11" fill="#1f4f9f"/><circle cx="-9.5" cy="-8" r="5.2" fill="#fdcb2b"/><circle cx="-7.6" cy="-8" r="4.4" fill="#1f4f9f"/><circle cx="-3.5" cy="-8.5" r="2.2" fill="#fdcb2b"/><line x1="-3.50" y1="-8.50" x2="0.30" y2="-8.50" stroke="#fdcb2b" stroke-width="1.2"/><line x1="-3.50" y1="-8.50" x2="-0.08" y2="-6.85" stroke="#fdcb2b" stroke-width="1.2"/><line x1="-3.50" y1="-8.50" x2="-1.13" y2="-5.53" stroke="#fdcb2b" stroke-width="1.2"/><line x1="-3.50" y1="-8.50" x2="-2.65" y2="-4.80" stroke="#fdcb2b" stroke-width="1.2"/><line x1="-3.50" y1="-8.50" x2="-4.35" y2="-4.80" stroke="#fdcb2b" stroke-width="1.2"/><line x1="-3.50" y1="-8.50" x2="-5.87" y2="-5.53" stroke="#fdcb2b" stroke-width="1.2"/><line x1="-3.50" y1="-8.50" x2="-6.92" y2="-6.85" stroke="#fdcb2b" stroke-width="1.2"/><line x1="-3.50" y1="-8.50" x2="-7.30" y2="-8.50" stroke="#fdcb2b" stroke-width="1.2"/><line x1="-3.50" y1="-8.50" x2="-6.92" y2="-10.15" stroke="#fdcb2b" stroke-width="1.2"/><line x1="-3.50" y1="-8.50" x2="-5.87" y2="-11.47" stroke="#fdcb2b" stroke-width="1.2"/><line x1="-3.50" y1="-8.50" x2="-4.35" y2="-12.20" stroke="#fdcb2b" stroke-width="1.2"/><line x1="-3.50" y1="-8.50" x2="-2.65" y2="-12.20" stroke="#fdcb2b" stroke-width="1.2"/><line x1="-3.50" y1="-8.50" x2="-1.13" y2="-11.47" stroke="#fdcb2b" stroke-width="1.2"/><line x1="-3.50" y1="-8.50" x2="-0.08" y2="-10.15" stroke="#fdcb2b" stroke-width="1.2"/></g></g>
<g transform="translate(397.7,826)"><circle r="17.6" fill="#fff" filter="url(#fsh)"/><g clip-path="url(#fc)"><rect x="-18.60" y="-17.60" width="37.20" height="2.91" fill="#e0283b"/><rect x="-18.60" y="-14.89" width="37.20" height="2.91" fill="#fbfbfb"/><rect x="-18.60" y="-12.18" width="37.20" height="2.91" fill="#e0283b"/><rect x="-18.60" y="-9.48" width="37.20" height="2.91" fill="#fbfbfb"/><rect x="-18.60" y="-6.77" width="37.20" height="2.91" fill="#e0283b"/><rect x="-18.60" y="-4.06" width="37.20" height="2.91" fill="#fbfbfb"/><rect x="-18.60" y="-1.35" width="37.20" height="2.91" fill="#e0283b"/><rect x="-18.60" y="1.35" width="37.20" height="2.91" fill="#fbfbfb"/><rect x="-18.60" y="4.06" width="37.20" height="2.91" fill="#e0283b"/><rect x="-18.60" y="6.77" width="37.20" height="2.91" fill="#fbfbfb"/><rect x="-18.60" y="9.48" width="37.20" height="2.91" fill="#e0283b"/><rect x="-18.60" y="12.18" width="37.20" height="2.91" fill="#fbfbfb"/><rect x="-18.60" y="14.89" width="37.20" height="2.91" fill="#e0283b"/><rect x="-18.60" y="-18.60" width="17.60" height="19.95" fill="#274f9c"/><circle cx="-15.00" cy="-14.50" r="0.75" fill="#fff"/><circle cx="-12.00" cy="-14.50" r="0.75" fill="#fff"/><circle cx="-9.00" cy="-14.50" r="0.75" fill="#fff"/><circle cx="-6.00" cy="-14.50" r="0.75" fill="#fff"/><circle cx="-3.00" cy="-14.50" r="0.75" fill="#fff"/><circle cx="-13.50" cy="-11.50" r="0.75" fill="#fff"/><circle cx="-10.50" cy="-11.50" r="0.75" fill="#fff"/><circle cx="-7.50" cy="-11.50" r="0.75" fill="#fff"/><circle cx="-4.50" cy="-11.50" r="0.75" fill="#fff"/><circle cx="-1.50" cy="-11.50" r="0.75" fill="#fff"/><circle cx="-15.00" cy="-8.50" r="0.75" fill="#fff"/><circle cx="-12.00" cy="-8.50" r="0.75" fill="#fff"/><circle cx="-9.00" cy="-8.50" r="0.75" fill="#fff"/><circle cx="-6.00" cy="-8.50" r="0.75" fill="#fff"/><circle cx="-3.00" cy="-8.50" r="0.75" fill="#fff"/><circle cx="-13.50" cy="-5.50" r="0.75" fill="#fff"/><circle cx="-10.50" cy="-5.50" r="0.75" fill="#fff"/><circle cx="-7.50" cy="-5.50" r="0.75" fill="#fff"/><circle cx="-4.50" cy="-5.50" r="0.75" fill="#fff"/><circle cx="-1.50" cy="-5.50" r="0.75" fill="#fff"/><circle cx="-15.00" cy="-2.50" r="0.75" fill="#fff"/><circle cx="-12.00" cy="-2.50" r="0.75" fill="#fff"/><circle cx="-9.00" cy="-2.50" r="0.75" fill="#fff"/><circle cx="-6.00" cy="-2.50" r="0.75" fill="#fff"/><circle cx="-3.00" cy="-2.50" r="0.75" fill="#fff"/></g></g>
<g transform="translate(433.5,826)"><circle r="17.6" fill="#fff" filter="url(#fsh)"/><g clip-path="url(#fc)"><rect x="-18.60" y="-17.60" width="37.20" height="12.03" fill="#3092e0"/><rect x="-18.60" y="-5.87" width="37.20" height="12.03" fill="#fbfbfb"/><rect x="-18.60" y="5.87" width="37.20" height="12.03" fill="#3092e0"/><circle cx="0" cy="0" r="2.7" fill="#f2a81d"/><line x1="0.00" y1="0.00" x2="4.00" y2="0.00" stroke="#f2a81d" stroke-width="1.2"/><line x1="0.00" y1="0.00" x2="3.70" y2="1.53" stroke="#f2a81d" stroke-width="1.2"/><line x1="0.00" y1="0.00" x2="2.83" y2="2.83" stroke="#f2a81d" stroke-width="1.2"/><line x1="0.00" y1="0.00" x2="1.53" y2="3.70" stroke="#f2a81d" stroke-width="1.2"/><line x1="0.00" y1="0.00" x2="0.00" y2="4.00" stroke="#f2a81d" stroke-width="1.2"/><line x1="0.00" y1="0.00" x2="-1.53" y2="3.70" stroke="#f2a81d" stroke-width="1.2"/><line x1="0.00" y1="0.00" x2="-2.83" y2="2.83" stroke="#f2a81d" stroke-width="1.2"/><line x1="0.00" y1="0.00" x2="-3.70" y2="1.53" stroke="#f2a81d" stroke-width="1.2"/><line x1="0.00" y1="0.00" x2="-4.00" y2="0.00" stroke="#f2a81d" stroke-width="1.2"/><line x1="0.00" y1="0.00" x2="-3.70" y2="-1.53" stroke="#f2a81d" stroke-width="1.2"/><line x1="0.00" y1="0.00" x2="-2.83" y2="-2.83" stroke="#f2a81d" stroke-width="1.2"/><line x1="0.00" y1="0.00" x2="-1.53" y2="-3.70" stroke="#f2a81d" stroke-width="1.2"/><line x1="0.00" y1="0.00" x2="-0.00" y2="-4.00" stroke="#f2a81d" stroke-width="1.2"/><line x1="0.00" y1="0.00" x2="1.53" y2="-3.70" stroke="#f2a81d" stroke-width="1.2"/><line x1="0.00" y1="0.00" x2="2.83" y2="-2.83" stroke="#f2a81d" stroke-width="1.2"/><line x1="0.00" y1="0.00" x2="3.70" y2="-1.53" stroke="#f2a81d" stroke-width="1.2"/></g></g>
<g transform="translate(535.5,886.5)"><circle r="17.6" fill="#fff" filter="url(#fsh)"/><g clip-path="url(#fc)"><rect x="-18.60" y="-17.60" width="37.20" height="12.03" fill="#fd8a25"/><rect x="-18.60" y="-5.87" width="37.20" height="12.03" fill="#fbfbfb"/><rect x="-18.60" y="5.87" width="37.20" height="12.03" fill="#45a336"/><circle r="3.3" fill="none" stroke="#1e4fa0" stroke-width="1.1"/><circle r="1" fill="#1e4fa0"/></g></g>
<g transform="translate(686.5,886)"><circle r="17.6" fill="#fff" filter="url(#fsh)"/><g clip-path="url(#fc)"><rect x="-18.60" y="-18.60" width="37.20" height="37.20" fill="#f5223f"/><rect x="-18.60" y="-18.60" width="15.30" height="37.20" fill="#48a63a"/><circle cx="-3.3" cy="0" r="6" fill="#fcd22f"/><circle cx="-3.3" cy="0" r="4.7" fill="#1e4fa0"/><rect x="-6.3" y="-3.3" width="6" height="6.6" rx="1.5" fill="#fff"/><rect x="-5" y="-2" width="3.4" height="4" fill="#3a6fd0"/></g></g>
<g transform="translate(629,899.5)"><circle r="17.6" fill="#fff" filter="url(#fsh)"/><g clip-path="url(#fc)"><rect x="-17.60" y="-18.60" width="8.89" height="37.20" fill="#f5223f"/><rect x="-9.01" y="-18.60" width="18.33" height="37.20" fill="#fbfbfb"/><rect x="9.01" y="-18.60" width="8.89" height="37.20" fill="#f5223f"/><g transform="translate(0,-1.2)"><path transform="scale(0.95)" d="M0,-9 L1.6,-5.5 L3.2,-6.3 L2.7,-1.8 L5.5,-4.2 L6.3,-2.6 L8.6,-3.1 L7.6,0.4 L8.9,1.1 L4.2,4.8 L4.8,6.6 L0.5,6 L0.5,10 L-0.5,10 L-0.5,6 L-4.8,6.6 L-4.2,4.8 L-8.9,1.1 L-7.6,0.4 L-8.6,-3.1 L-6.3,-2.6 L-5.5,-4.2 L-2.7,-1.8 L-3.2,-6.3 L-1.6,-5.5Z" fill="#f5223f"/></g></g></g>
<g transform="translate(786.5,914.5)"><circle r="17.6" fill="#fff" filter="url(#fsh)"/><g clip-path="url(#fc)"><rect x="-17.60" y="-18.60" width="12.03" height="37.20" fill="#3f9f3a"/><rect x="-5.87" y="-18.60" width="12.03" height="37.20" fill="#fbfbfb"/><rect x="5.87" y="-18.60" width="12.03" height="37.20" fill="#f5223f"/><circle cx="0" cy="0" r="3.5" fill="#8c6a2a"/><path d="M-3.5,1.5 Q0,5 3.5,1.5" stroke="#3f9f3a" stroke-width="1" fill="none"/></g></g>
<g transform="translate(781,897)"><circle r="17.6" fill="#fff" filter="url(#fsh)"/><g clip-path="url(#fc)"><rect x="-18.60" y="-17.60" width="37.20" height="9.10" fill="#f5223f"/><rect x="-18.60" y="-8.80" width="37.20" height="17.90" fill="#fdc62d"/><rect x="-18.60" y="8.80" width="37.20" height="9.10" fill="#f5223f"/><g transform="translate(-8.5,1)"><rect x="-3" y="-3.5" width="6" height="7" rx="1" fill="#c8202b"/><rect x="-3" y="-3.5" width="3" height="3.5" fill="#ad1519"/><rect x="-5.5" y="-3" width="1.5" height="7" fill="#b0832a"/><rect x="4" y="-3" width="1.5" height="7" fill="#b0832a"/><rect x="-2.5" y="-6" width="5" height="2.2" fill="#b0832a"/></g></g></g>
<g transform="translate(623,946)"><circle r="17.6" fill="#fff" filter="url(#fsh)"/><g clip-path="url(#fc)"><rect x="-18.60" y="-17.60" width="37.20" height="17.90" fill="#f5223f"/><rect x="-18.60" y="0.00" width="37.20" height="17.90" fill="#1d57a6"/><path d="M-19,-15 L-4,-3.5 L19,-3.5 L19,3.5 L-4,3.5 L-19,15Z" fill="#fff"/><path d="M-19,-11 L-6,-1.9 L19,-1.9 L19,1.9 L-6,1.9 L-19,11Z" fill="#3fa23a" transform="scale(1,1.55)"/><path d="M-19,-9 L-8,0 L-19,9Z" fill="#fdc02b"/><path d="M-19,-6.5 L-11,0 L-19,6.5Z" fill="#222"/></g></g>
<g transform="translate(371.5,966.5)"><circle r="17.6" fill="#fff" filter="url(#fsh)"/><g clip-path="url(#fc)"><rect x="-18.60" y="-17.60" width="37.20" height="17.90" fill="#f5223f"/><rect x="-18.60" y="0.00" width="37.20" height="17.90" fill="#fbfbfb"/></g></g>
<g transform="translate(379,938)"><circle r="17.6" fill="#fff" filter="url(#fsh)"/><g clip-path="url(#fc)"><rect x="-18.60" y="-17.60" width="37.20" height="17.90" fill="#fdcb2b"/><rect x="-18.60" y="0.00" width="37.20" height="9.10" fill="#1f4f9f"/><rect x="-18.60" y="8.80" width="37.20" height="9.10" fill="#f5223f"/></g></g>
<g transform="translate(965.7,979.5)"><circle r="17.6" fill="#fff" filter="url(#fsh)"/><g clip-path="url(#fc)"><rect x="-17.60" y="-18.60" width="12.03" height="37.20" fill="#4aab3e"/><rect x="-5.87" y="-18.60" width="12.03" height="37.20" fill="#fbfbfb"/><rect x="5.87" y="-18.60" width="12.03" height="37.20" fill="#fd8a21"/></g></g>
<g transform="translate(134.7,999.5)"><circle r="17.6" fill="#fff" filter="url(#fsh)"/><g clip-path="url(#fc)"><svg x="-17.6" y="-17.6" width="35.2" height="35.2" viewBox="0 0 60 30" preserveAspectRatio="none"><rect width="60" height="30" fill="#1d3f8f"/><path d="M0,0 L60,30 M60,0 L0,30" stroke="#fff" stroke-width="6"/><path d="M0,0 L60,30 M60,0 L0,30" stroke="#f5223f" stroke-width="2.5"/><path d="M30,0 V30 M0,15 H60" stroke="#fff" stroke-width="10"/><path d="M30,0 V30 M0,15 H60" stroke="#f5223f" stroke-width="6"/></svg></g></g>
<g transform="translate(350,1033)"><circle r="17.6" fill="#fff" filter="url(#fsh)"/><g clip-path="url(#fc)"><rect x="-18.60" y="-17.60" width="37.20" height="17.90" fill="#1f51a4"/><rect x="-18.60" y="0.00" width="37.20" height="17.90" fill="#f5223f"/><path d="M-18.5,-18 L3,0 L-18.5,18Z" fill="#fff"/><circle cx="-10.5" cy="0" r="2.3" fill="#fdcb2b"/><line x1="-10.50" y1="0.00" x2="-6.30" y2="0.00" stroke="#fdcb2b" stroke-width="1.2"/><line x1="-10.50" y1="0.00" x2="-7.53" y2="2.97" stroke="#fdcb2b" stroke-width="1.2"/><line x1="-10.50" y1="0.00" x2="-10.50" y2="4.20" stroke="#fdcb2b" stroke-width="1.2"/><line x1="-10.50" y1="0.00" x2="-13.47" y2="2.97" stroke="#fdcb2b" stroke-width="1.2"/><line x1="-10.50" y1="0.00" x2="-14.70" y2="0.00" stroke="#fdcb2b" stroke-width="1.2"/><line x1="-10.50" y1="0.00" x2="-13.47" y2="-2.97" stroke="#fdcb2b" stroke-width="1.2"/><line x1="-10.50" y1="0.00" x2="-10.50" y2="-4.20" stroke="#fdcb2b" stroke-width="1.2"/><line x1="-10.50" y1="0.00" x2="-7.53" y2="-2.97" stroke="#fdcb2b" stroke-width="1.2"/><polygon points="-15.00,-9.10 -14.68,-8.24 -13.76,-8.20 -14.48,-7.63 -14.24,-6.75 -15.00,-7.25 -15.76,-6.75 -15.52,-7.63 -16.24,-8.20 -15.32,-8.24" fill="#fdcb2b"/><polygon points="-15.00,6.50 -14.68,7.36 -13.76,7.40 -14.48,7.97 -14.24,8.85 -15.00,8.35 -15.76,8.85 -15.52,7.97 -16.24,7.40 -15.32,7.36" fill="#fdcb2b"/><polygon points="-3.50,-1.30 -3.18,-0.44 -2.26,-0.40 -2.98,0.17 -2.74,1.05 -3.50,0.55 -4.26,1.05 -4.02,0.17 -4.74,-0.40 -3.82,-0.44" fill="#fdcb2b"/></g></g>
<g transform="translate(264.4,1073.3)"><circle r="17.6" fill="#fff" filter="url(#fsh)"/><g clip-path="url(#fc)"><rect x="-18.60" y="-18.60" width="37.20" height="37.20" fill="#1f5aa6"/><rect x="-10.30" y="-18.60" width="7.00" height="37.20" fill="#fdcb2b"/><rect x="-18.60" y="-3.50" width="37.20" height="7.00" fill="#fdcb2b"/></g></g>
<g transform="translate(897.5,1073)"><circle r="17.6" fill="#fff" filter="url(#fsh)"/><g clip-path="url(#fc)"><rect x="-18.60" y="-18.60" width="37.20" height="37.20" fill="#fbfbfb"/><rect x="-11.65" y="-18.60" width="8.70" height="37.20" fill="#1f5aa6"/><rect x="-18.60" y="-4.35" width="37.20" height="8.70" fill="#1f5aa6"/></g></g>
<g transform="translate(962,1073)"><circle r="17.6" fill="#fff" filter="url(#fsh)"/><g clip-path="url(#fc)"><rect x="-18.60" y="-18.60" width="37.20" height="37.20" fill="#f5223f"/><rect x="-9.80" y="-18.60" width="6.60" height="37.20" fill="#fbfbfb"/><rect x="-18.60" y="-3.30" width="37.20" height="6.60" fill="#fbfbfb"/></g></g>
<g transform="translate(132.6,1100)"><circle r="17.6" fill="#fff" filter="url(#fsh)"/><g clip-path="url(#fc)"><rect x="-18.60" y="-17.60" width="37.20" height="12.03" fill="#f5223f"/><rect x="-18.60" y="-5.87" width="37.20" height="12.03" fill="#fbfbfb"/><rect x="-18.60" y="5.87" width="37.20" height="12.03" fill="#1f51a4"/></g></g>
<g transform="translate(971.5,1113.5)"><circle r="17.6" fill="#fff" filter="url(#fsh)"/><g clip-path="url(#fc)"><rect x="-18.60" y="-17.60" width="37.20" height="12.03" fill="#2b2b2b"/><rect x="-18.60" y="-5.87" width="37.20" height="12.03" fill="#f5223f"/><rect x="-18.60" y="5.87" width="37.20" height="12.03" fill="#fdcb2b"/></g></g>
<g transform="translate(994.5,1136)"><circle r="17.6" fill="#fff" filter="url(#fsh)"/><g clip-path="url(#fc)"><rect x="-18.60" y="-18.60" width="37.20" height="37.20" fill="#f5223f"/><rect x="-2.60" y="-8.50" width="5.20" height="17.00" fill="#fbfbfb"/><rect x="-8.50" y="-2.60" width="17.00" height="5.20" fill="#fbfbfb"/></g></g>
<g transform="translate(990,1119)"><circle r="17.6" fill="#fff" filter="url(#fsh)"/><g clip-path="url(#fc)"><rect x="-18.60" y="-18.60" width="37.20" height="37.20" fill="#f5223f"/><rect x="-12.00" y="-18.60" width="8.00" height="37.20" fill="#fbfbfb"/><rect x="-18.60" y="-4.00" width="37.20" height="8.00" fill="#fbfbfb"/><rect x="-10.00" y="-18.60" width="4.00" height="37.20" fill="#1f3f8f"/><rect x="-18.60" y="-2.00" width="37.20" height="4.00" fill="#1f3f8f"/></g></g>
<g transform="translate(994.5,1119.5)"><circle r="17.6" fill="#fff" filter="url(#fsh)"/><g clip-path="url(#fc)"><rect x="-18.60" y="-17.60" width="37.20" height="12.03" fill="#f5223f"/><rect x="-18.60" y="-5.87" width="37.20" height="12.03" fill="#fbfbfb"/><rect x="-18.60" y="5.87" width="37.20" height="12.03" fill="#f5223f"/></g></g>
<g transform="translate(472,1119.5)"><circle r="17.6" fill="#fff" filter="url(#fsh)"/><g clip-path="url(#fc)"><rect x="-17.60" y="-18.60" width="12.03" height="37.20" fill="#1f5aa8"/><rect x="-5.87" y="-18.60" width="12.03" height="37.20" fill="#fbfbfb"/><rect x="5.87" y="-18.60" width="12.03" height="37.20" fill="#f5223f"/></g></g>
<g transform="translate(386,1153.5)"><circle r="17.6" fill="#fff" filter="url(#fsh)"/><g clip-path="url(#fc)"><rect x="-17.60" y="-18.60" width="12.03" height="37.20" fill="#2b2b2b"/><rect x="-5.87" y="-18.60" width="12.03" height="37.20" fill="#fdcb2b"/><rect x="5.87" y="-18.60" width="12.03" height="37.20" fill="#f5223f"/></g></g>
<g transform="translate(649.3,1153.5)"><circle r="17.6" fill="#fff" filter="url(#fsh)"/><g clip-path="url(#fc)"><rect x="-18.60" y="-17.60" width="37.20" height="17.90" fill="#f5223f"/><rect x="-18.60" y="0.00" width="37.20" height="17.90" fill="#fbfbfb"/><circle cx="-9" cy="-8" r="5.2" fill="#fff"/><circle cx="-6.8" cy="-8" r="5" fill="#f5223f"/><polygon points="-4.20,-12.10 -3.94,-11.36 -3.15,-11.34 -3.77,-10.86 -3.55,-10.11 -4.20,-10.55 -4.85,-10.11 -4.63,-10.86 -5.25,-11.34 -4.46,-11.36" fill="#fff"/><polygon points="-1.35,-10.03 -1.08,-9.29 -0.30,-9.27 -0.92,-8.79 -0.70,-8.04 -1.35,-8.48 -1.99,-8.04 -1.77,-8.79 -2.39,-9.27 -1.61,-9.29" fill="#fff"/><polygon points="-2.44,-6.67 -2.17,-5.94 -1.39,-5.91 -2.01,-5.43 -1.79,-4.68 -2.44,-5.12 -3.08,-4.68 -2.86,-5.43 -3.48,-5.91 -2.70,-5.94" fill="#fff"/><polygon points="-5.96,-6.67 -5.70,-5.94 -4.92,-5.91 -5.54,-5.43 -5.32,-4.68 -5.96,-5.12 -6.61,-4.68 -6.39,-5.43 -7.01,-5.91 -6.23,-5.94" fill="#fff"/><polygon points="-7.05,-10.03 -6.79,-9.29 -6.01,-9.27 -6.63,-8.79 -6.41,-8.04 -7.05,-8.48 -7.70,-8.04 -7.48,-8.79 -8.10,-9.27 -7.32,-9.29" fill="#fff"/></g></g>
<g transform="translate(523.5,1187)"><circle r="17.6" fill="#fff" filter="url(#fsh)"/><g clip-path="url(#fc)"><rect x="-18.60" y="-17.60" width="37.20" height="17.90" fill="#fbfbfb"/><rect x="-18.60" y="0.00" width="37.20" height="17.90" fill="#f5223f"/><rect x="-18.60" y="-18.60" width="15.60" height="18.60" fill="#1f51a4"/><polygon points="-11.00,-11.20 -10.21,-8.89 -7.77,-8.85 -9.72,-7.38 -9.00,-5.05 -11.00,-6.45 -13.00,-5.05 -12.28,-7.38 -14.23,-8.85 -11.79,-8.89" fill="#fff"/></g></g>
<text x="950.91" y="358.00" font-size="17.7" font-weight="bold" fill="#101d2b" textLength="53.95" lengthAdjust="spacingAndGlyphs" stroke="#101d2b" stroke-width="0.3">Vietnam</text>
<text x="957.85" y="431.00" font-size="17.7" font-weight="bold" fill="#101d2b" textLength="44.97" lengthAdjust="spacingAndGlyphs" stroke="#101d2b" stroke-width="0.3">Taiwan</text>
<text x="883.63" y="485.00" font-size="17.7" font-weight="bold" fill="#101d2b" textLength="77.29" lengthAdjust="spacingAndGlyphs" stroke="#101d2b" stroke-width="0.3">South Korea</text>
<text x="951.15" y="526.00" font-size="17.7" font-weight="bold" fill="#101d2b" textLength="68.71" lengthAdjust="spacingAndGlyphs" stroke="#101d2b" stroke-width="0.3">Hong Kong</text>
<text x="943.09" y="596.00" font-size="17.7" font-weight="bold" fill="#101d2b" textLength="82.80" lengthAdjust="spacingAndGlyphs" stroke="#101d2b" stroke-width="0.3">New Zealand</text>
<text x="818.46" y="652.00" font-size="17.7" font-weight="bold" fill="#101d2b" textLength="49.45" lengthAdjust="spacingAndGlyphs" stroke="#101d2b" stroke-width="0.3">Czechia</text>
<text x="923.51" y="633.00" font-size="17.7" font-weight="bold" fill="#101d2b" textLength="38.53" lengthAdjust="spacingAndGlyphs" stroke="#101d2b" stroke-width="0.3">Israel</text>
<text x="908.80" y="707.50" font-size="17.7" font-weight="bold" fill="#101d2b" textLength="38.01" lengthAdjust="spacingAndGlyphs" stroke="#101d2b" stroke-width="0.3">Japan</text>
<text x="1005.35" y="668.00" font-size="17.7" font-weight="bold" fill="#101d2b" textLength="55.54" lengthAdjust="spacingAndGlyphs" stroke="#101d2b" stroke-width="0.3">Thailand</text>
<text x="964.15" y="761.00" font-size="17.7" font-weight="bold" fill="#101d2b" textLength="59.76" lengthAdjust="spacingAndGlyphs" stroke="#101d2b" stroke-width="0.3">Australia</text>
<text x="495.78" y="698.00" font-size="17.7" font-weight="bold" fill="#101d2b" textLength="45.93" lengthAdjust="spacingAndGlyphs" stroke="#101d2b" stroke-width="0.3">Poland</text>
<text x="506.44" y="669.00" font-size="17.7" font-weight="bold" fill="#101d2b" textLength="46.02" lengthAdjust="spacingAndGlyphs" stroke="#101d2b" stroke-width="0.3">Greece</text>
<text x="488.54" y="778.70" font-size="17.7" font-weight="bold" fill="#101d2b" textLength="39.18" lengthAdjust="spacingAndGlyphs" stroke="#101d2b" stroke-width="0.3">Brazil</text>
<text x="646.11" y="779.00" font-size="17.7" font-weight="bold" fill="#101d2b" textLength="53.96" lengthAdjust="spacingAndGlyphs" stroke="#101d2b" stroke-width="0.3">Hungary</text>
<text x="762.75" y="811.00" font-size="17.7" font-weight="bold" fill="#101d2b" textLength="29.83" lengthAdjust="spacingAndGlyphs" stroke="#101d2b" stroke-width="0.3">Italy</text>
<text x="916.68" y="811.00" font-size="17.7" font-weight="bold" fill="#101d2b" textLength="57.64" lengthAdjust="spacingAndGlyphs" stroke="#101d2b" stroke-width="0.3">Malaysia</text>
<text x="342.69" y="828.50" font-size="17.7" font-weight="bold" fill="#101d2b" textLength="26.24" lengthAdjust="spacingAndGlyphs" stroke="#101d2b" stroke-width="0.3">U.S.</text>
<text x="457.16" y="828.50" font-size="17.7" font-weight="bold" fill="#101d2b" textLength="63.35" lengthAdjust="spacingAndGlyphs" stroke="#101d2b" stroke-width="0.3">Argentina</text>
<text x="520.09" y="921.70" font-size="17.7" font-weight="bold" fill="#101d2b" textLength="31.83" lengthAdjust="spacingAndGlyphs" stroke="#101d2b" stroke-width="0.3">India</text>
<text x="676.05" y="863.00" font-size="17.7" font-weight="bold" fill="#101d2b" textLength="57.45" lengthAdjust="spacingAndGlyphs" stroke="#101d2b" stroke-width="0.3">Portugal</text>
<text x="649.97" y="921.75" font-size="17.7" font-weight="bold" fill="#101d2b" textLength="46.95" lengthAdjust="spacingAndGlyphs" stroke="#101d2b" stroke-width="0.3">Canada</text>
<text x="809.10" y="921.25" font-size="17.7" font-weight="bold" fill="#101d2b" textLength="45.42" lengthAdjust="spacingAndGlyphs" stroke="#101d2b" stroke-width="0.3">Mexico</text>
<text x="804.62" y="901.75" font-size="17.7" font-weight="bold" fill="#101d2b" textLength="35.69" lengthAdjust="spacingAndGlyphs" stroke="#101d2b" stroke-width="0.3">Spain</text>
<text x="648.62" y="955.75" font-size="17.7" font-weight="bold" fill="#101d2b" textLength="79.30" lengthAdjust="spacingAndGlyphs" stroke="#101d2b" stroke-width="0.3">South Africa</text>
<text x="391.61" y="971.00" font-size="17.7" font-weight="bold" fill="#101d2b" textLength="62.31" lengthAdjust="spacingAndGlyphs" stroke="#101d2b" stroke-width="0.3">Indonesia</text>
<text x="403.46" y="945.00" font-size="17.7" font-weight="bold" fill="#101d2b" textLength="59.45" lengthAdjust="spacingAndGlyphs" stroke="#101d2b" stroke-width="0.3">Colombia</text>
<text x="991.44" y="985.60" font-size="17.7" font-weight="bold" fill="#101d2b" textLength="47.11" lengthAdjust="spacingAndGlyphs" stroke="#101d2b" stroke-width="0.3">Ireland</text>
<text x="157.20" y="1002.00" font-size="17.7" font-weight="bold" fill="#101d2b" textLength="102.62" lengthAdjust="spacingAndGlyphs" stroke="#101d2b" stroke-width="0.3">United Kingdom</text>
<text x="371.58" y="1040.00" font-size="17.7" font-weight="bold" fill="#101d2b" textLength="72.98" lengthAdjust="spacingAndGlyphs" stroke="#101d2b" stroke-width="0.3">Philippines</text>
<text x="287.61" y="1077.60" font-size="17.7" font-weight="bold" fill="#101d2b" textLength="51.23" lengthAdjust="spacingAndGlyphs" stroke="#101d2b" stroke-width="0.3">Sweden</text>
<text x="824.84" y="1078.00" font-size="17.7" font-weight="bold" fill="#101d2b" textLength="48.56" lengthAdjust="spacingAndGlyphs" stroke="#101d2b" stroke-width="0.3">Finland</text>
<text x="989.10" y="1078.00" font-size="17.7" font-weight="bold" fill="#101d2b" textLength="57.89" lengthAdjust="spacingAndGlyphs" stroke="#101d2b" stroke-width="0.3">Denmark</text>
<text x="157.36" y="1108.30" font-size="17.7" font-weight="bold" fill="#101d2b" textLength="80.91" lengthAdjust="spacingAndGlyphs" stroke="#101d2b" stroke-width="0.3">Netherlands</text>
<text x="892.46" y="1117.50" font-size="17.7" font-weight="bold" fill="#101d2b" textLength="56.61" lengthAdjust="spacingAndGlyphs" stroke="#101d2b" stroke-width="0.3">Germany</text>
<text x="958.59" y="1173.75" font-size="17.7" font-weight="bold" fill="#101d2b" textLength="78.34" lengthAdjust="spacingAndGlyphs" stroke="#101d2b" stroke-width="0.3">Switzerland</text>
<text x="1019.08" y="1135.50" font-size="17.7" font-weight="bold" fill="#101d2b" textLength="49.75" lengthAdjust="spacingAndGlyphs" stroke="#101d2b" stroke-width="0.3">Norway</text>
<text x="1019.67" y="1113.00" font-size="17.7" font-weight="bold" fill="#101d2b" textLength="46.00" lengthAdjust="spacingAndGlyphs" stroke="#101d2b" stroke-width="0.3">Austria</text>
<text x="493.09" y="1124.00" font-size="17.7" font-weight="bold" fill="#101d2b" textLength="44.37" lengthAdjust="spacingAndGlyphs" stroke="#101d2b" stroke-width="0.3">France</text>
<text x="306.58" y="1159.00" font-size="17.7" font-weight="bold" fill="#101d2b" textLength="54.27" lengthAdjust="spacingAndGlyphs" stroke="#101d2b" stroke-width="0.3">Belgium</text>
<text x="674.12" y="1159.00" font-size="17.7" font-weight="bold" fill="#101d2b" textLength="65.14" lengthAdjust="spacingAndGlyphs" stroke="#101d2b" stroke-width="0.3">Singapore</text>
<text x="546.45" y="1193.30" font-size="17.7" font-weight="bold" fill="#101d2b" textLength="32.76" lengthAdjust="spacingAndGlyphs" stroke="#101d2b" stroke-width="0.3">Chile</text>
<text x="785.47" y="1434.30" font-size="14.5" font-weight="normal" fill="#6a9da1" textLength="283.15" lengthAdjust="spacingAndGlyphs">All data as of May 29, 2020 or latest available</text>
<text x="503.19" y="1453.00" font-size="14.5" font-weight="normal" fill="#6a9da1" textLength="565.11" lengthAdjust="spacingAndGlyphs">Sources: Google COVID-19 Community Mobility Report, CoronaTracker / VISUAL CAPITALIST</text>
</svg></body></html>
